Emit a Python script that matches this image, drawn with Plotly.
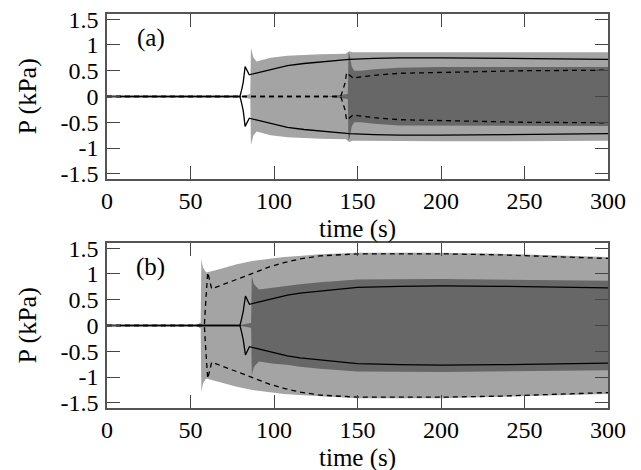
import plotly.graph_objects as go

# ---------------- data ----------------
# panel (a)
t_light_a = [79.6, 83.0, 85.8, 86.2, 87.6, 89.6, 93.0, 98.0, 108.0, 118.0, 128.0, 143.0, 145.0, 147.0, 150.0, 200.0, 250.0, 300.0]
amp_light_a = [0.0, 0.03, 0.05, 0.94, 0.76, 0.68, 0.71, 0.75, 0.79, 0.81, 0.82, 0.83, 0.88, 0.86, 0.86, 0.87, 0.87, 0.86]

t_dark_a = [132.0, 139.0, 144.2, 144.6, 145.4, 146.5, 148.0, 152.0, 160.0, 175.0, 200.0, 250.0, 300.0]
amp_dark_a = [0.0, 0.03, 0.05, 0.86, 0.80, 0.58, 0.50, 0.50, 0.53, 0.56, 0.57, 0.57, 0.57]

t_solid_a = [0.0, 79.6, 80.6, 81.6, 82.7, 85.2, 90.0, 95.0, 100.0, 108.0, 118.0, 128.0, 137.0, 145.0, 160.0, 175.0, 200.0, 250.0, 300.0]
amp_solid_a = [0.0, 0.0, 0.13, 0.28, 0.58, 0.42, 0.46, 0.50, 0.54, 0.60, 0.64, 0.67, 0.70, 0.72, 0.74, 0.75, 0.75, 0.74, 0.72]

t_dash_a = [0.0, 139.9, 141.2, 142.5, 143.5, 147.5, 150.0, 160.0, 175.0, 200.0, 225.0, 250.0, 300.0]
amp_dash_a = [0.0, 0.0, 0.12, 0.26, 0.46, 0.35, 0.37, 0.41, 0.45, 0.47, 0.49, 0.50, 0.51]

# panel (b)
t_light_b = [50.0, 54.0, 56.1, 56.5, 57.5, 59.4, 65.0, 77.7, 87.0, 97.6, 106.0, 115.0, 127.5, 150.0, 200.0, 235.0, 300.0]
amp_light_b = [0.0, 0.02, 0.06, 1.29, 1.12, 1.03, 1.07, 1.19, 1.25, 1.30, 1.33, 1.35, 1.38, 1.41, 1.41, 1.39, 1.33]

t_dark_b = [78.0, 84.0, 86.3, 86.7, 88.0, 91.0, 100.0, 107.6, 115.6, 127.5, 140.0, 150.0, 200.0, 250.0, 300.0]
amp_dark_b = [0.0, 0.03, 0.05, 0.96, 0.80, 0.70, 0.74, 0.76, 0.80, 0.84, 0.87, 0.89, 0.90, 0.89, 0.87]

t_solid_b = [0.0, 79.6, 80.6, 81.6, 82.9, 85.3, 90.0, 95.0, 100.0, 108.0, 115.6, 127.5, 138.0, 150.0, 175.0, 200.0, 235.0, 300.0]
amp_solid_b = [0.0, 0.0, 0.13, 0.28, 0.57, 0.41, 0.45, 0.49, 0.53, 0.59, 0.63, 0.67, 0.71, 0.74, 0.76, 0.77, 0.76, 0.73]

t_dash_b = [0.0, 58.3, 59.2, 60.3, 62.7, 70.0, 77.7, 90.0, 97.6, 106.0, 115.6, 127.5, 138.0, 150.0, 200.0, 235.0, 300.0]
amp_dash_b = [0.0, 0.0, 0.50, 1.03, 0.71, 0.80, 0.91, 1.05, 1.14, 1.22, 1.29, 1.35, 1.37, 1.39, 1.39, 1.37, 1.30]

y_tickvals = [-1.5, -1, -0.5, 0, 0.5, 1, 1.5]
y_ticktext = ["-1.5", "-1", "-0.5", "0", "0.5", "1", "1.5"]
x_tickvals = [0, 50, 100, 150, 200, 250, 300]
panel_labels = ["(a)", "(b)"]
x_title = "time (s)"
y_title = "P (kPa)"

LIGHT = "#a4a4a4"
DARK = "#676767"
FONT = "Liberation Serif, DejaVu Serif, serif"

fig = go.Figure()


def band(t, amp, color, xa, ya):
    xs = list(t) + list(t[::-1])
    ys = list(amp) + [-a for a in amp[::-1]]
    fig.add_trace(go.Scatter(x=xs, y=ys, fill="toself", fillcolor=color,
                             line=dict(width=0), mode="lines", hoverinfo="skip",
                             showlegend=False, xaxis=xa, yaxis=ya))


def branches(t, amp, dash, xa, ya):
    xs = list(t) + [None] + list(t)
    ys = list(amp) + [None] + [-a for a in amp]
    fig.add_trace(go.Scatter(x=xs, y=ys, mode="lines",
                             line=dict(color="black", width=1.3, dash=dash),
                             showlegend=False, xaxis=xa, yaxis=ya))


band(t_light_a, amp_light_a, LIGHT, "x", "y")
band(t_dark_a, amp_dark_a, DARK, "x", "y")
branches(t_dash_a, amp_dash_a, "5px,4px", "x", "y")
branches(t_solid_a, amp_solid_a, "solid", "x", "y")

band(t_light_b, amp_light_b, LIGHT, "x2", "y2")
band(t_dark_b, amp_dark_b, DARK, "x2", "y2")
branches(t_dash_b, amp_dash_b, "5px,4px", "x2", "y2")
branches(t_solid_b, amp_solid_b, "solid", "x2", "y2")

axis_common = dict(showgrid=False, zeroline=False, showline=True, mirror="ticks",
                   linecolor="#555555", linewidth=1.5, ticks="inside", ticklen=13,
                   tickwidth=1.3, tickcolor="#444444", automargin=False,
                   ticklabeloverflow="allow",
                   tickfont=dict(family=FONT, size=24, color="black"))

# the page body has an 8px margin, so the figure is sized/offset to compensate
W, H = 633, 462
M_L, M_R, M_T, M_B = 99, 33, 6, 62
H_PLOT = H - M_T - M_B
top_dom = [1 - 165 / H_PLOT, 1]
bot_dom = [0, 165 / H_PLOT]

xa = dict(axis_common, range=[0, 300], tickvals=x_tickvals, ticklabelstandoff=-1)
ya = dict(axis_common, range=[-1.6, 1.6], tickvals=y_tickvals, ticktext=y_ticktext,
          ticklabelstandoff=2)

fig.update_layout(
    width=W, height=H,
    margin=dict(l=M_L, r=M_R, t=M_T, b=M_B),
    paper_bgcolor="white", plot_bgcolor="white",
    xaxis=dict(xa, domain=[0, 1], anchor="y"),
    yaxis=dict(ya, domain=top_dom, anchor="x"),
    xaxis2=dict(xa, domain=[0, 1], anchor="y2"),
    yaxis2=dict(ya, domain=bot_dom, anchor="x2"),
    showlegend=False,
)

for xr, yr, lab in [("x domain", "y domain", panel_labels[0]), ("x2 domain", "y2 domain", panel_labels[1])]:
    fig.add_annotation(text=lab, xref=xr, yref=yr, x=0.087, y=0.855,
                       xanchor="center", yanchor="middle", showarrow=False,
                       font=dict(family=FONT, size=25, color="black"))
    fig.add_annotation(text=x_title, xref=xr, yref=yr, x=0.5, y=0,
                       xanchor="center", yanchor="middle",
                       yshift=-50, showarrow=False,
                       font=dict(family=FONT, size=25, color="black"))
    fig.add_annotation(text=y_title, xref=xr, yref=yr, x=0, y=0.5,
                       xanchor="center", yanchor="middle",
                       xshift=-80, textangle=-90, showarrow=False,
                       font=dict(family=FONT, size=26, color="black"))

fig.write_html("out.html")
